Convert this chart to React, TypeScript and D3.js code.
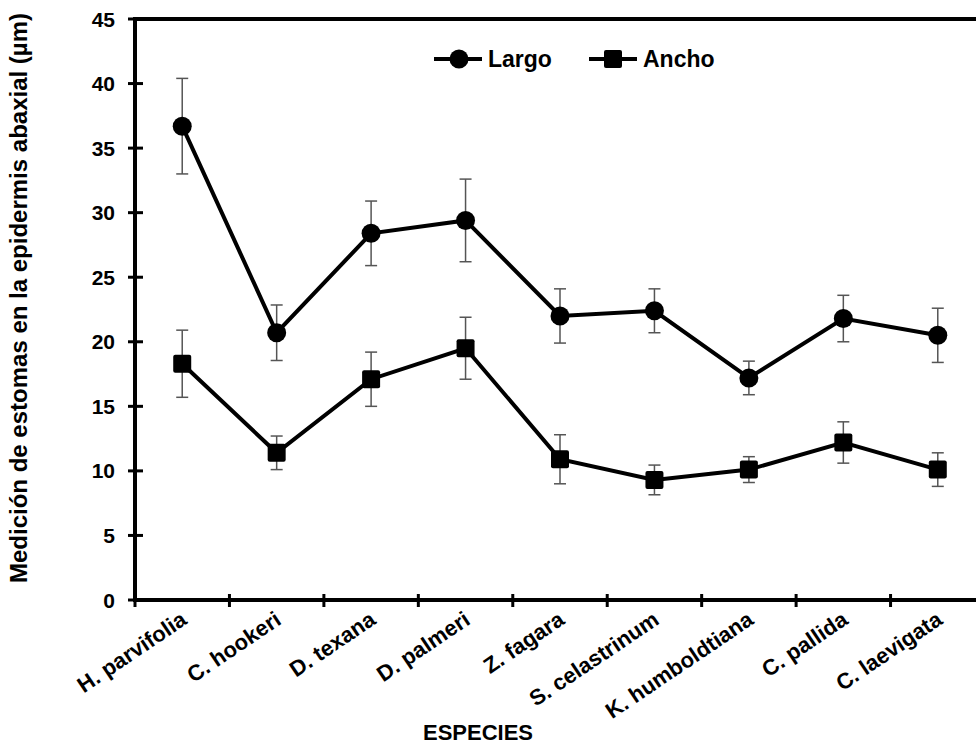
import * as d3 from "d3";
import React, { useEffect, useRef } from "react";

const especies = [
  "H. parvifolia",
  "C. hookeri",
  "D. texana",
  "D. palmeri",
  "Z. fagara",
  "S. celastrinum",
  "K. humboldtiana",
  "C. pallida",
  "C. laevigata",
];

const largo = [36.7, 20.7, 28.4, 29.4, 22.0, 22.4, 17.2, 21.8, 20.5];
const largoErr = [3.7, 2.15, 2.5, 3.2, 2.1, 1.7, 1.3, 1.8, 2.1];

const ancho = [18.3, 11.4, 17.1, 19.5, 10.9, 9.3, 10.1, 12.2, 10.1];
const anchoErr = [2.6, 1.3, 2.1, 2.4, 1.9, 1.15, 1.0, 1.6, 1.3];

const yTicks = [0, 5, 10, 15, 20, 25, 30, 35, 40, 45];

const FONT = "'Liberation Sans', Arial, sans-serif";

const EstomasChart = () => {
  const svgRef = useRef<SVGSVGElement>(null);

  useEffect(() => {
    const width = 976;
    const height = 746;
    const svg = d3.select(svgRef.current);
    svg.selectAll("*").remove();
    svg.attr("width", width).attr("height", height);

    const x = d3.scaleBand<string>().domain(especies).range([135, 985]).padding(0);
    const y = d3.scaleLinear().domain([0, 45]).range([600, 19]);
    const cx = (d: string) => (x(d) ?? 0) + x.bandwidth() / 2;

    // top frame line
    svg
      .append("line")
      .attr("x1", 135)
      .attr("x2", width)
      .attr("y1", y(45))
      .attr("y2", y(45))
      .attr("stroke", "#000")
      .attr("stroke-width", 4);

    // y axis
    const yAxis = svg.append("g");
    yAxis
      .append("line")
      .attr("x1", 135)
      .attr("x2", 135)
      .attr("y1", y(45) - 2)
      .attr("y2", y(0) + 2)
      .attr("stroke", "#000")
      .attr("stroke-width", 4);
    yAxis
      .selectAll("line.tick")
      .data(yTicks)
      .enter()
      .append("line")
      .attr("class", "tick")
      .attr("x1", 128)
      .attr("x2", 143)
      .attr("y1", (d) => y(d))
      .attr("y2", (d) => y(d))
      .attr("stroke", "#000")
      .attr("stroke-width", 3);
    yAxis
      .selectAll("text")
      .data(yTicks)
      .enter()
      .append("text")
      .attr("x", 115)
      .attr("y", (d) => y(d))
      .attr("dy", "0.36em")
      .attr("text-anchor", "end")
      .style("font-family", FONT)
      .style("font-weight", "bold")
      .style("font-size", "21px")
      .text((d) => d);

    // x axis
    const xAxis = svg.append("g");
    xAxis
      .append("line")
      .attr("x1", 133)
      .attr("x2", width)
      .attr("y1", y(0))
      .attr("y2", y(0))
      .attr("stroke", "#000")
      .attr("stroke-width", 4);
    xAxis
      .selectAll("line.tick")
      .data(especies)
      .enter()
      .append("line")
      .attr("class", "tick")
      .attr("x1", (d) => x(d) ?? 0)
      .attr("x2", (d) => x(d) ?? 0)
      .attr("y1", y(0) - 6)
      .attr("y2", y(0) + 7)
      .attr("stroke", "#000")
      .attr("stroke-width", 3);
    xAxis
      .selectAll("text")
      .data(especies)
      .enter()
      .append("text")
      .attr("transform", (d) => `translate(${cx(d) + 6},${y(0) + 23}) rotate(-34)`)
      .attr("text-anchor", "end")
      .style("font-family", FONT)
      .style("font-weight", "bold")
      .style("font-size", "22px")
      .text((d) => d);

    // axis titles
    svg
      .append("text")
      .attr("x", 478)
      .attr("y", 740)
      .attr("text-anchor", "middle")
      .style("font-family", FONT)
      .style("font-weight", "bold")
      .style("font-size", "22px")
      .text("ESPECIES");
    svg
      .append("text")
      .attr("transform", `translate(27,298) rotate(-90)`)
      .attr("text-anchor", "middle")
      .style("font-family", FONT)
      .style("font-weight", "bold")
      .style("font-size", "24px")
      .text("Medición de estomas en la epidermis abaxial (µm)");

    const series = [
      { name: "Largo", values: largo, err: largoErr, shape: "circle" },
      { name: "Ancho", values: ancho, err: anchoErr, shape: "square" },
    ];

    const line = d3
      .line<number>()
      .x((_, i) => cx(especies[i]))
      .y((d) => y(d));

    series.forEach((s) => {
      const g = svg.append("g");
      // error bars
      const eb = g
        .selectAll("g.err")
        .data(s.values)
        .enter()
        .append("g")
        .attr("class", "err")
        .attr("stroke", "#555")
        .attr("stroke-width", 1.5);
      eb.append("line")
        .attr("x1", (_, i) => cx(especies[i]))
        .attr("x2", (_, i) => cx(especies[i]))
        .attr("y1", (d, i) => y(d + s.err[i]))
        .attr("y2", (d, i) => y(d - s.err[i]));
      [1, -1].forEach((sign) => {
        eb.append("line")
          .attr("x1", (_, i) => cx(especies[i]) - 6)
          .attr("x2", (_, i) => cx(especies[i]) + 6)
          .attr("y1", (d, i) => y(d + sign * s.err[i]))
          .attr("y2", (d, i) => y(d + sign * s.err[i]));
      });

      g.append("path")
        .datum(s.values)
        .attr("d", line)
        .attr("fill", "none")
        .attr("stroke", "#000")
        .attr("stroke-width", 4);

      if (s.shape === "circle") {
        g.selectAll("circle")
          .data(s.values)
          .enter()
          .append("circle")
          .attr("cx", (_, i) => cx(especies[i]))
          .attr("cy", (d) => y(d))
          .attr("r", 9.5)
          .attr("fill", "#000");
      } else {
        g.selectAll("rect")
          .data(s.values)
          .enter()
          .append("rect")
          .attr("x", (_, i) => cx(especies[i]) - 9)
          .attr("y", (d) => y(d) - 9)
          .attr("width", 18)
          .attr("height", 18)
          .attr("rx", 2)
          .attr("fill", "#000");
      }
    });

    // legend
    const legend = svg.append("g");
    const items = [
      { name: "Largo", shape: "circle", x0: 434 },
      { name: "Ancho", shape: "square", x0: 589 },
    ];
    items.forEach((it) => {
      const ly = 59;
      legend
        .append("line")
        .attr("x1", it.x0)
        .attr("x2", it.x0 + 48)
        .attr("y1", ly)
        .attr("y2", ly)
        .attr("stroke", "#000")
        .attr("stroke-width", 4);
      if (it.shape === "circle") {
        legend
          .append("circle")
          .attr("cx", it.x0 + 25)
          .attr("cy", ly)
          .attr("r", 9.5)
          .attr("fill", "#000");
      } else {
        legend
          .append("rect")
          .attr("x", it.x0 + 15)
          .attr("y", ly - 9)
          .attr("width", 18)
          .attr("height", 18)
          .attr("rx", 2)
          .attr("fill", "#000");
      }
      legend
        .append("text")
        .attr("x", it.x0 + 54)
        .attr("y", ly)
        .attr("dy", "0.36em")
        .style("font-family", FONT)
        .style("font-weight", "bold")
        .style("font-size", "23px")
        .text(it.name);
    });
  }, []);

  return <svg ref={svgRef} style={{ position: "absolute", left: 0, top: 0 }}></svg>;
};

const App = () => {
  return (
    <div>
      <EstomasChart />
    </div>
  );
};

export default App;
